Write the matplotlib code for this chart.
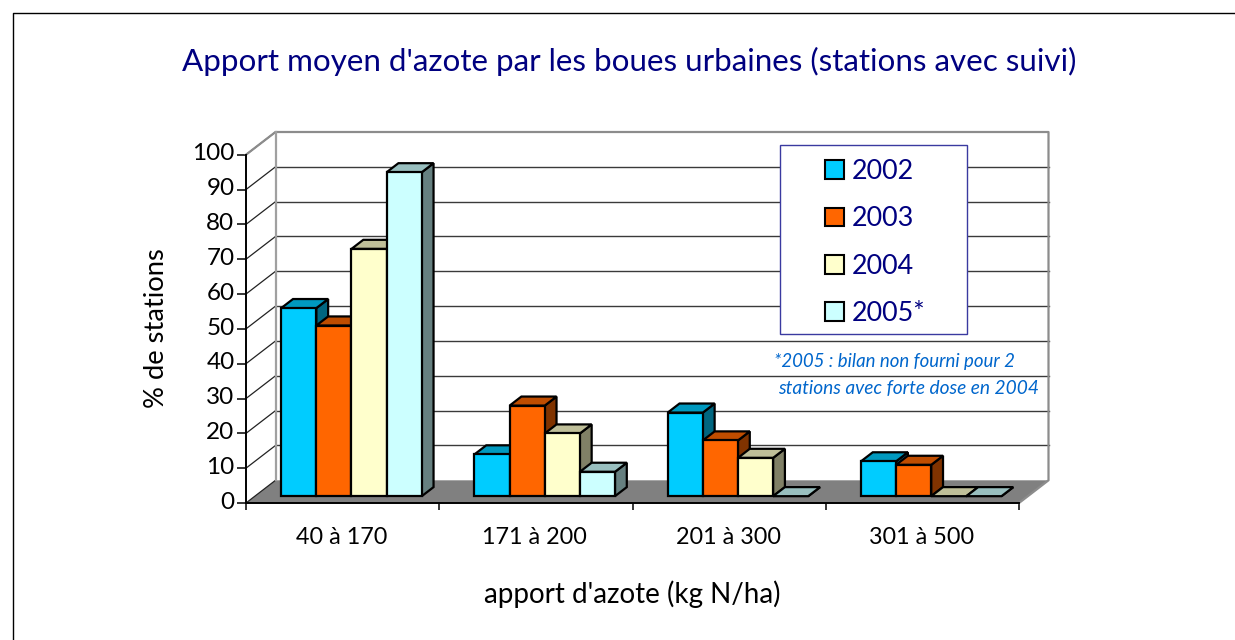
import numpy as np
import matplotlib
matplotlib.use("Agg")
import matplotlib.pyplot as plt
from matplotlib.colors import to_rgb
from matplotlib.lines import Line2D
from matplotlib.patches import Patch, Polygon, Rectangle
from matplotlib.transforms import ScaledTranslation

categories = ["40 à 170", "171 à 200", "201 à 300", "301 à 500"]
series_names = ["2002", "2003", "2004", "2005*"]
values_2002 = [54, 12, 24, 10]
values_2003 = [49, 26, 16, 9]
values_2004 = [71, 18, 11, 0]
values_2005 = [93, 7, 0, 0]
y_ticks = list(range(0, 101, 10))
colors = ["#00CCFF", "#FF6600", "#FFFFCC", "#CCFFFF"]
navy = "#000080"

W, H = 1235, 640
plt.rcParams["font.family"] = ["Lato", "DejaVu Sans"]


def fx(x):
    return x / W


def fy(y):
    return 1 - y / H


def shade(color, k):
    return tuple(c * k for c in to_rgb(color))


fig = plt.figure(figsize=(W / 100, H / 100), dpi=100)
ax = fig.add_axes([fx(246), fy(503), fx(1019) - fx(246), fy(154.7) - fy(503)])
ax.set_xlim(0, len(categories))
ax.set_ylim(0, 100)
ax.patch.set_visible(False)
for side in ["top", "right"]:
    ax.spines[side].set_visible(False)
for side in ["left", "bottom"]:
    ax.spines[side].set_linewidth(1.4)
    ax.spines[side].set_zorder(6)

# depth of the fake 3d box, in data units
depth_x = 29.5 / 193.25
depth_y = 22.7 / 3.483
n = len(categories)

# floor and walls
ax.add_patch(Polygon([(0, 0), (n, 0), (n + depth_x, depth_y), (depth_x, depth_y)],
                     fc="#808080", ec="none", clip_on=False, zorder=1))
for v in y_ticks:
    ax.plot([0, depth_x], [v, v + depth_y], color="#222222", lw=0.9, clip_on=False, zorder=2)
    if 0 < v < 100:
        ax.plot([depth_x, n + depth_x], [v + depth_y, v + depth_y], color="#3a3a3a", lw=1.0,
                clip_on=False, zorder=2)
ax.plot([0, depth_x, n + depth_x, n + depth_x, n], [100, 100 + depth_y, 100 + depth_y, depth_y, 0],
        color="#8c8c8c", lw=1.6, clip_on=False, zorder=2)
ax.plot([depth_x, depth_x], [depth_y, 100 + depth_y], color="#a0a0a0", lw=1.6, clip_on=False, zorder=2)


def draw_bar(x, width, value, color, z):
    # front face sits at 30% of the depth, back face at 70%
    x0 = x + 0.3 * depth_x
    y0 = 0.3 * depth_y
    dx = 0.4 * depth_x
    dy = 0.4 * depth_y
    top = value + y0
    style = dict(ec="black", lw=1.6, clip_on=False, zorder=z, joinstyle="miter")
    ax.add_patch(Polygon([(x0 + width, y0), (x0 + width + dx, y0 + dy), (x0 + width + dx, top + dy), (x0 + width, top)],
                         fc=shade(color, 0.5), **style))
    ax.add_patch(Polygon([(x0, top), (x0 + dx, top + dy), (x0 + width + dx, top + dy), (x0 + width, top)],
                         fc=shade(color, 0.75), **style))
    if value > 0:
        ax.add_patch(Rectangle((x0, y0), width, value, fc=color, **style))


all_values = [values_2002, values_2003, values_2004, values_2005]
bar_w = 1 / 5.5
for g in range(n):
    for s, vals in enumerate(all_values):
        draw_bar(g + 0.75 * bar_w + s * bar_w, bar_w, vals[g], colors[s], 3 + g * 0.1 + s * 0.01)

ax.set_xticks(range(n + 1))
ax.set_xticklabels([])
ax.set_yticks(y_ticks)
ax.tick_params(axis="y", length=6.3, width=1.1, labelsize=17.5, pad=2)
ax.tick_params(axis="x", length=5, width=1.1)
for lab in ax.get_yticklabels():
    lab.set_transform(lab.get_transform() + ScaledTranslation(0, 2 / 72, fig.dpi_scale_trans))

for i, cat in enumerate(categories):
    fig.text(fx(245 + 193.25 * (i + 0.5)), fy(537), cat, fontsize=16.8, ha="center", va="center")
fig.text(fx(632), fy(594), "apport d'azote (kg N/ha)", fontsize=20, ha="center", va="center")
fig.text(fx(156), fy(328), "% de stations", fontsize=19.7, rotation=90, ha="center", va="center")
fig.text(fx(629.5), fy(61), "Apport moyen d'azote par les boues urbaines (stations avec suivi)",
         fontsize=22.6, color=navy, ha="center", va="center")

# legend box
fig.add_artist(Rectangle((fx(780), fy(334)), fx(967) - fx(780), fy(145) - fy(334), transform=fig.transFigure,
                         fc="white", ec="#3a3aa0", lw=1.0, zorder=7))
handles = [Patch(fc=c, ec="black", lw=1.5) for c in colors]
leg = fig.legend(handles, series_names, loc="upper left", bbox_to_anchor=(fx(825), fy(159)),
                 frameon=False, fontsize=19.4, labelcolor=navy, handlelength=0.7, handleheight=0.7,
                 handletextpad=0.3, labelspacing=0.83, borderpad=0, borderaxespad=0)
leg.set_zorder(8)

fig.text(fx(774), fy(361), "*2005 : bilan non fourni pour 2", fontsize=13.4, style="italic", color="#0066CC",
         va="center", zorder=8)
fig.text(fx(778), fy(389), "stations avec forte dose en 2004", fontsize=13.8, style="italic", color="#0066CC",
         va="center", zorder=8)

# frame of the slide
fig.add_artist(Line2D([fx(13), fx(13), 1], [0, fy(13), fy(13)], color="black", lw=1.0))

fig.savefig("out.png", dpi=100)
